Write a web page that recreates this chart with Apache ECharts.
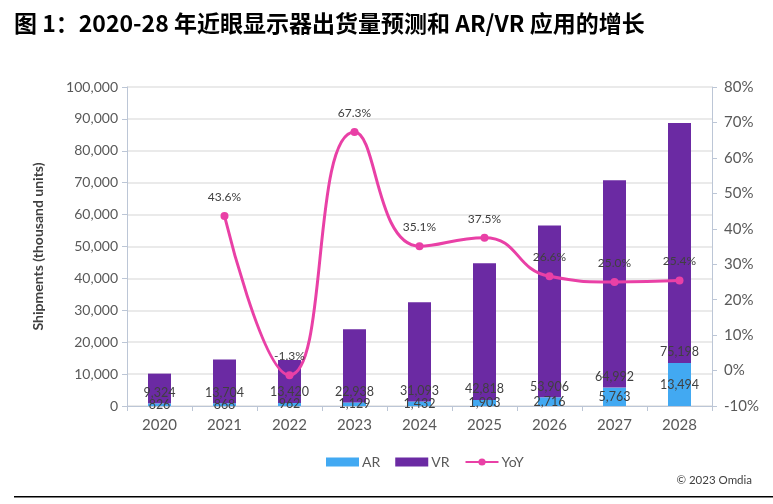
<!DOCTYPE html>
<html>
<head>
<meta charset="utf-8">
<script src="https://cdn.jsdelivr.net/npm/echarts@6/dist/echarts.min.js"></script>
<style>
html,body{margin:0;padding:0;background:#fff;}
#chart{width:773px;height:504px;}
</style>
</head>
<body>
<div id="chart"></div>
<script>
var categories = ['2020','2021','2022','2023','2024','2025','2026','2027','2028'];
var arValues = [826, 868, 962, 1129, 1432, 1903, 2716, 5763, 13494];
var vrValues = [9324, 13704, 13420, 22938, 31093, 42818, 53906, 64992, 75198];
var yoyValues = [null, 43.6, -1.3, 67.3, 35.1, 37.5, 26.6, 25.0, 25.4];

var labelColor = '#404040';
var tickColor = '#595959';
var axisLineColor = '#BCC6D6';
var baseFont = 'Lato, "Open Sans", sans-serif';

function fmt(v){ return String(v).replace(/\B(?=(\d{3})+(?!\d))/g, ','); }

var chart = echarts.init(document.getElementById('chart'), null, {renderer:'canvas'});
chart.setOption({
  animation:false,
  backgroundColor:'#ffffff',
  textStyle:{fontFamily: baseFont},
  title:{
    text:'图 1：2020-28 年近眼显示器出货量预测和 AR/VR 应用的增长',
    left:9, top:7,
    textStyle:{fontFamily:'"Noto Sans CJK SC", sans-serif', fontWeight:'bold', fontSize:23, color:'#000'}
  },
  grid:{left:127, right:61, top:87, bottom:98, containLabel:false},
  legend:{
    left:321, top:450,
    itemGap:15, itemWidth:33, itemHeight:9,
    textStyle:{fontSize:14, color:tickColor, fontFamily:baseFont, padding:[0,0,0,-2]},
    data:[
      {name:'AR', icon:'rect'},
      {name:'VR', icon:'rect'},
      {name:'YoY'}
    ]
  },
  xAxis:{
    type:'category',
    data:categories,
    axisLine:{lineStyle:{color:axisLineColor}},
    axisTick:{show:true, alignWithLabel:false, length:5, lineStyle:{color:axisLineColor}},
    axisLabel:{fontSize:15, color:tickColor, margin:12, fontFamily:baseFont}
  },
  yAxis:[
    {
      type:'value', min:0, max:100000, interval:10000,
      name:'Shipments (thousand units)',
      nameLocation:'middle', nameGap:82,
      nameTextStyle:{fontWeight:'bold', fontSize:14, color:labelColor, fontFamily:baseFont},
      axisLine:{show:true, lineStyle:{color:axisLineColor}},
      axisTick:{show:true, length:5, lineStyle:{color:axisLineColor}},
      axisLabel:{fontSize:14, color:tickColor, margin:9, formatter:function(v){return fmt(v);}},
      splitLine:{show:true, lineStyle:{color:'#E3E3E3', width:1.5}}
    },
    {
      type:'value', min:-10, max:80, interval:10,
      position:'right',
      axisLine:{show:true, lineStyle:{color:axisLineColor}},
      axisTick:{show:true, length:5, lineStyle:{color:axisLineColor}},
      axisLabel:{fontSize:15, color:tickColor, margin:12, formatter:'{value}%'},
      splitLine:{show:false}
    }
  ],
  series:[
    {
      name:'AR', type:'bar', stack:'total', barWidth:23,
      data:arValues,
      itemStyle:{color:'#42A9F2'},
      label:{show:true, position:'inside', color:labelColor, fontSize:12.5, formatter:function(p){return fmt(p.value);}}
    },
    {
      name:'VR', type:'bar', stack:'total', barWidth:23,
      data:vrValues,
      itemStyle:{color:'#6B2AA3'},
      label:{show:true, position:'insideBottom', distance:4, color:labelColor, fontSize:12.5, formatter:function(p){return fmt(p.value);}}
    },
    {
      name:'YoY', type:'line', yAxisIndex:1,
      data:yoyValues,
      smooth:0.5,
      symbol:'circle', symbolSize:8,
      lineStyle:{color:'#E940A6', width:3},
      itemStyle:{color:'#E940A6'},
      label:{show:true, position:'top', distance:9, color:labelColor, fontSize:12, formatter:function(p){return p.value.toFixed(1)+'%';}}
    }
  ],
  graphic:[
    {type:'text', right:21, top:474, style:{text:'© 2023 Omdia', fill:'#404040', font:'11.5px ' + baseFont}},
    {type:'rect', shape:{x:14, y:496, width:759, height:1.5}, style:{fill:'#000'}}
  ]
});
</script>
</body>
</html>
